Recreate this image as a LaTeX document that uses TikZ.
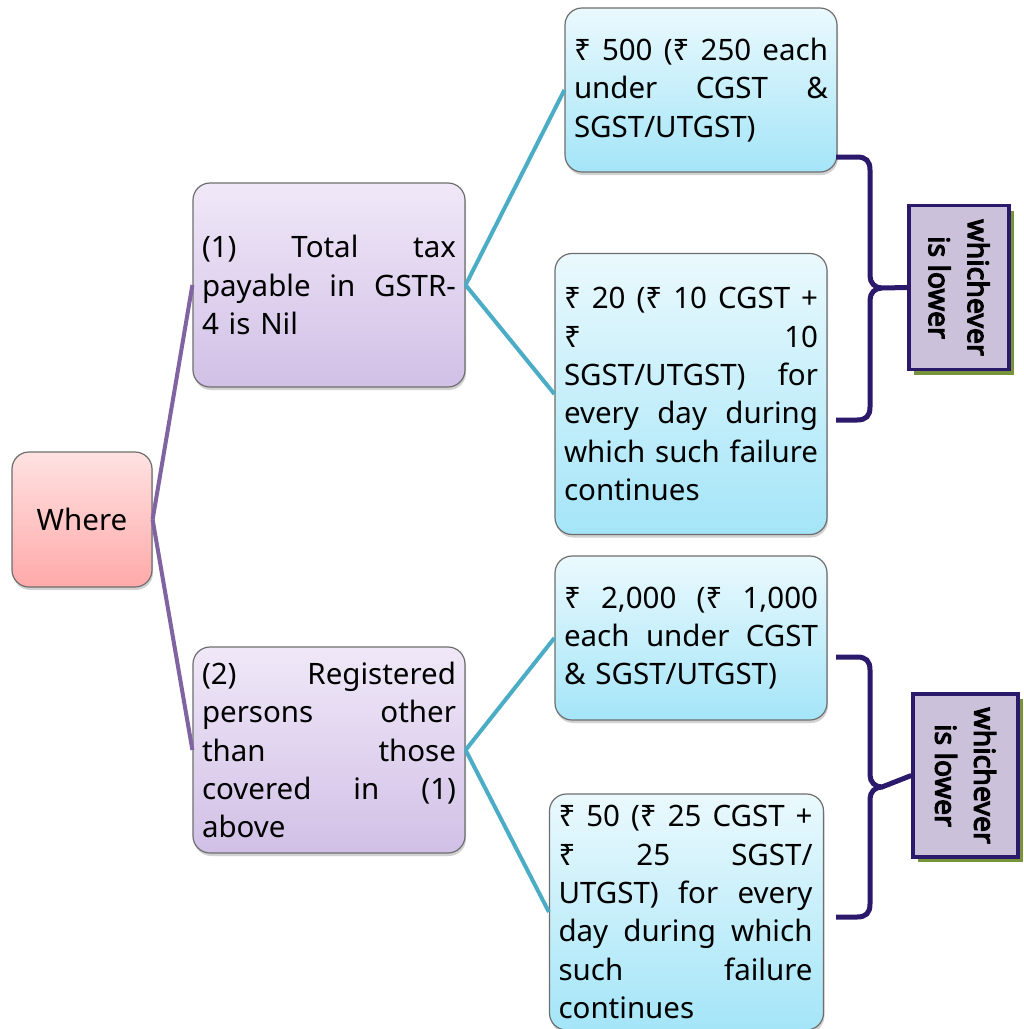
\documentclass[tikz,border=0pt]{standalone}
\usepackage{fontspec}
\setmainfont{Noto Sans}
\newfontfamily\notefont{Noto Sans}[BoldFont={Noto Sans}, BoldFeatures={FakeBold=4}]
\usetikzlibrary{shadows}

\definecolor{linkpurple}{HTML}{8064A2}
\definecolor{linkcyan}{HTML}{4BACC6}
\definecolor{bracenavy}{HTML}{2B1A6B}
\definecolor{notefill}{HTML}{CCC1DA}
\definecolor{noteshadow}{HTML}{77933C}
\definecolor{pinktop}{HTML}{FFE2E2}
\definecolor{pinkbot}{HTML}{FFA9A9}
\definecolor{lavtop}{HTML}{F0E8F8}
\definecolor{lavbot}{HTML}{D1C0E6}
\definecolor{cyantop}{HTML}{EAF9FD}
\definecolor{cyanbot}{HTML}{A4E5F8}
\definecolor{boxedge}{HTML}{6E6E6E}

% justified line of a given width (spaces stretch evenly)
\newlength\jwd
\setlength\jwd{254pt}
\newcommand\jl[1]{\makebox[\jwd][s]{\spaceskip=0.26em plus 1fil minus 0.05em\relax #1}\\}

\tikzset{
  basebox/.style={draw=boxedge, line width=1.2pt, rounded corners=17pt,
    inner xsep=9pt, inner ysep=0pt, align=left,
    font=\fontsize{29.5}{38.3}\selectfont,
    drop shadow={shadow xshift=1pt, shadow yshift=-3pt, opacity=0.35}},
  wherebox/.style={basebox, top color=pinktop, bottom color=pinkbot, align=center},
  lavbox/.style={basebox, top color=lavtop, bottom color=lavbot},
  cyanbox/.style={basebox, top color=cyantop, bottom color=cyanbot},
  pline/.style={draw=linkpurple, line width=4pt},
  cline/.style={draw=linkcyan, line width=4pt},
  bracepath/.style={draw=bracenavy, line width=5pt},
  notebox/.style={draw=bracenavy, line width=3.5pt, fill=notefill,
    general shadow={fill=noteshadow, shadow xshift=5pt, shadow yshift=-5pt}},
  notetext/.style={rotate=-90, align=center,
    font=\notefont\bfseries\fontsize{28.5}{39}\selectfont}
}

\begin{document}
\begin{tikzpicture}[x=1pt, y=-1pt]
\clip (0,0) rectangle (1024,1029);
\fill[white] (0,0) rectangle (1024,1029);

% root
\node[wherebox, minimum width=140pt, minimum height=135pt] (where) at (82,519.5) {Where};

% cases
\node[lavbox, text width=254pt, minimum height=204pt] (t1) at (329,285)
  {\jl{(1) Total tax}\jl{payable in GSTR-}4 is Nil};
\node[lavbox, text width=254pt, minimum height=206pt] (t2) at (329,750)
  {\jl{(2) Registered}\jl{persons other}\jl{than those}\jl{covered in (1)}above};

% amounts
\node[cyanbox, text width=254pt, minimum height=164pt] (a) at (701,90)
  {\jl{₹ 500 (₹ 250 each}\jl{under CGST \&}SGST/UTGST)};
\node[cyanbox, text width=254pt, minimum height=281pt] (b) at (691,394)
  {\jl{₹ 20 (₹ 10 CGST +}\jl{₹ 10}\jl{SGST/UTGST) for}\jl{every day during}\jl{which such failure}continues};
\node[cyanbox, text width=254pt, minimum height=164pt] (c) at (691,638)
  {\jl{₹ 2,000 (₹ 1,000}\jl{each under CGST}\& SGST/UTGST)};
\node[cyanbox, text width=256pt, minimum height=236pt] (d) at (686.5,912)
  {\jl{₹ 50 (₹ 25 CGST +}\jl{₹ 25 SGST/}\jl{UTGST) for every}\jl{day during which}\jl{such failure}continues};

% connectors
\draw[pline] (where.east) -- (t1.west);
\draw[pline] (where.east) -- (t2.west);
\draw[cline] (t1.east) -- (a.west);
\draw[cline] (t1.east) -- (b.west);
\draw[cline] (t2.east) -- (c.west);
\draw[cline] (t2.east) -- (d.west);

% notes
\node[notebox, minimum width=100pt, minimum height=164pt] (w1) at (959,287.5) {};
\node[notetext] (w1t) at (w1.center) {whichever\\is lower};
\node[notebox, minimum width=105pt, minimum height=163pt] (w2) at (965.5,775.5) {};
\node[notetext] (w2t) at (w2.center) {whichever\\is lower};

% braces
\draw[bracepath] (836,157) -- (857,157) .. controls (866,157) and (870,161) .. (870,170)
  -- (870,276) .. controls (870,283) and (875,288) .. (882,288) -- (w1.west)
  (882,288) .. controls (875,288) and (870,293) .. (870,300)
  -- (870,407) .. controls (870,416) and (866,420) .. (857,420) -- (836,420);
\draw[bracepath] (836,657) -- (857,657) .. controls (866,657) and (870,661) .. (870,670)
  -- (870,775) .. controls (870,782) and (875,787) .. (882,787) -- (w2.west)
  (882,787) .. controls (875,787) and (870,792) .. (870,799)
  -- (870,904) .. controls (870,913) and (866,917) .. (857,917) -- (836,917);
\end{tikzpicture}
\end{document}
